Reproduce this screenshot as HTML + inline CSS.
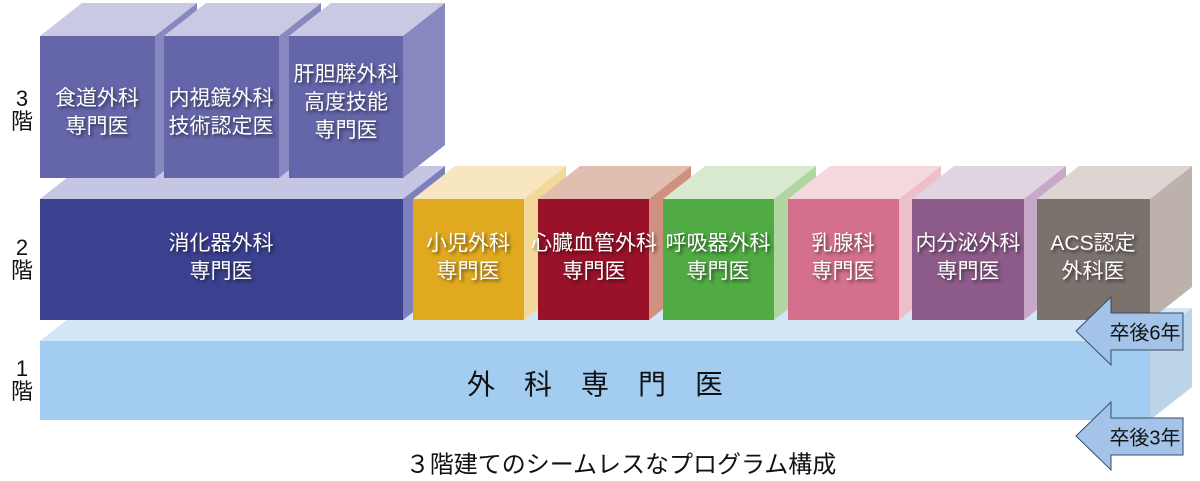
<!DOCTYPE html>
<html><head><meta charset="utf-8"><style>
body{margin:0;width:1200px;height:481px;background:#fff;position:relative;overflow:hidden;font-family:"Liberation Sans","Noto Sans CJK JP",sans-serif}
svg{position:absolute;left:0;top:0}
.t{position:absolute;color:#fff;font-size:21px;line-height:28px;text-align:center;text-shadow:2px 2px 3px rgba(0,0,0,.55);transform:translate(-50%,-50%);white-space:nowrap}
.k{position:absolute;color:#111;text-align:center;transform:translate(-50%,-50%);white-space:nowrap}
</style></head><body>
<svg width="1200" height="481">
<polygon points="40,341 82,308 1192,308 1150,341" fill="#d2e6f8"/>
<polygon points="1150,341 1192,308 1192,387 1150,420" fill="#bcd4e8"/>
<rect x="40" y="341" width="1110" height="79" fill="#a2cdf0"/>
<g>
<polygon points="40,199 82,166 445,166 403,199" fill="#c5c6e3"/><polygon points="403,199 445,166 445,287 403,320" fill="#7d80bd"/><rect x="40" y="199" width="363" height="121" fill="#3c418f"/>
<polygon points="413,199 455,166 566,166 524,199" fill="#f7e6c0"/><polygon points="524,199 566,166 566,287 524,320" fill="#f2d99a"/><rect x="413" y="199" width="111" height="121" fill="#e0a91f"/>
<polygon points="538,199 580,166 691,166 649,199" fill="#e0bfb0"/><polygon points="649,199 691,166 691,287 649,320" fill="#d09080"/><rect x="538" y="199" width="111" height="121" fill="#991229"/>
<polygon points="663,199 705,166 816,166 774,199" fill="#d7e9cf"/><polygon points="774,199 816,166 816,287 774,320" fill="#b0d6a2"/><rect x="663" y="199" width="111" height="121" fill="#50ab44"/>
<polygon points="788,199 830,166 941,166 899,199" fill="#f3d8de"/><polygon points="899,199 941,166 941,287 899,320" fill="#ecbfc9"/><rect x="788" y="199" width="111" height="121" fill="#d4708b"/>
<polygon points="912,199 954,166 1066,166 1024,199" fill="#e0d3e2"/><polygon points="1024,199 1066,166 1066,287 1024,320" fill="#c8a8c8"/><rect x="912" y="199" width="112" height="121" fill="#8d5b8a"/>
<polygon points="1037,199 1079,166 1192,166 1150,199" fill="#dcd5d2"/><polygon points="1150,199 1192,166 1192,287 1150,320" fill="#bcb2ab"/><rect x="1037" y="199" width="113" height="121" fill="#7b716d"/>
</g>
<g>
<polygon points="40,36 82,3 197,3 155,36" fill="#c9c9e3"/><polygon points="155,36 197,3 197,145 155,178" fill="#8788bf"/><rect x="40" y="36" width="115" height="142" fill="#6466a9"/>
<polygon points="164,36 206,3 321,3 279,36" fill="#c9c9e3"/><polygon points="279,36 321,3 321,145 279,178" fill="#8788bf"/><rect x="164" y="36" width="115" height="142" fill="#6466a9"/>
<polygon points="289,36 331,3 445,3 403,36" fill="#c9c9e3"/><polygon points="403,36 445,3 445,145 403,178" fill="#8788bf"/><rect x="289" y="36" width="114" height="142" fill="#6466a9"/>
</g>
<polygon points="1076,331 1111,297 1111,313 1183,313 1183,350 1111,350 1111,365" fill="#a3c4e8" stroke="#3a4a66" stroke-width="1"/>
<polygon points="1076,436 1111,402 1111,418 1183,418 1183,455 1111,455 1111,470" fill="#a3c4e8" stroke="#3a4a66" stroke-width="1"/>
</svg>
<div class="k" style="left:22px;top:110px;font-size:22px;line-height:23px">3<br>階</div>
<div class="k" style="left:22px;top:259px;font-size:22px;line-height:23px">2<br>階</div>
<div class="k" style="left:22px;top:380px;font-size:22px;line-height:23px">1<br>階</div>
<div class="t" style="left:97px;top:113px">食道外科<br>専門医</div>
<div class="t" style="left:221px;top:113px">内視鏡外科<br>技術認定医</div>
<div class="t" style="left:346px;top:103px">肝胆膵外科<br>高度技能<br>専門医</div>
<div class="t" style="left:221px;top:258px">消化器外科<br>専門医</div>
<div class="t" style="left:468px;top:258px">小児外科<br>専門医</div>
<div class="t" style="left:594px;top:258px">心臓血管外科<br>専門医</div>
<div class="t" style="left:718px;top:258px">呼吸器外科<br>専門医</div>
<div class="t" style="left:843px;top:258px">乳腺科<br>専門医</div>
<div class="t" style="left:968px;top:258px">内分泌外科<br>専門医</div>
<div class="t" style="left:1093px;top:258px">ACS認定<br>外科医</div>
<div class="k" style="left:595px;top:383px;font-size:28px;letter-spacing:29px;padding-left:29px">外科専門医</div>
<div class="k" style="left:621px;top:462px;font-size:24px">３階建てのシームレスなプログラム構成</div>
<div class="k" style="left:1145px;top:331px;font-size:20px">卒後6年</div>
<div class="k" style="left:1145px;top:436px;font-size:20px">卒後3年</div>
</body></html>
